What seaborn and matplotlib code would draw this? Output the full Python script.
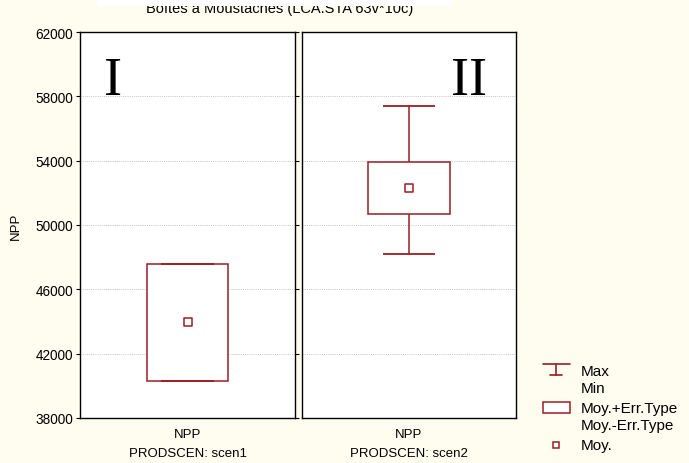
import matplotlib
matplotlib.use("Agg")
import matplotlib.pyplot as plt
import seaborn as sns
import pandas as pd
from matplotlib.lines import Line2D
from matplotlib.patches import Rectangle

# ---- data ----
scenarios = ["scen1", "scen2"]
means = [43950, 52300]
mean_plus_se = [47600, 53900]
mean_minus_se = [40300, 50700]
maxs = [47600, 57400]
mins = [40300, 48200]
roman = ["I", "II"]
yticks = [38000, 42000, 46000, 50000, 54000, 58000, 62000]

sns.set_style("white")
plt.rcParams["font.family"] = ["Liberation Sans", "DejaVu Sans"]
plt.rcParams.update({"text.color": "black", "axes.labelcolor": "black",
                     "xtick.color": "black", "ytick.color": "black"})

BG = "#FFFDEF"
RED = "#9A1E24"

fig = plt.figure(figsize=(6.89, 4.64), dpi=100, facecolor=BG)
W, H = 689, 464

def fx(px):
    return px / W

def fy(py):
    return 1 - py / H

panels = [(80, 295), (302, 516)]
top, bottom = 33, 419
roman_pos = [(0.155, 0.875), (0.78, 0.875)]

for i, sc in enumerate(scenarios):
    l, r = panels[i]
    ax = fig.add_axes([fx(l), fy(bottom), fx(r - l), (bottom - top) / H])
    ax.set_facecolor("white")
    ax.set_xlim(-1, 1)
    ax.set_ylim(38000, 62000)
    ax.set_yticks(yticks)
    for y in yticks[1:-1]:
        ax.axhline(y, color="#c4c4c4", lw=0.7, ls=(0, (1, 1.2)), zorder=0)
    # box (mean +/- SE)
    ax.bar([0], [mean_plus_se[i] - mean_minus_se[i]], bottom=[mean_minus_se[i]],
           width=0.76, facecolor="white", edgecolor=RED, linewidth=1.1, zorder=2)
    # whiskers
    ax.vlines([0], [mean_plus_se[i]], [maxs[i]], color=RED, lw=1.1, zorder=3)
    ax.vlines([0], [mins[i]], [mean_minus_se[i]], color=RED, lw=1.1, zorder=3)
    ax.hlines([maxs[i], mins[i]], -0.245, 0.245, color=RED, lw=1.3, zorder=3)
    # mean marker
    df = pd.DataFrame({"x": [0], "y": [means[i]]})
    sns.scatterplot(data=df, x="x", y="y", ax=ax, marker="s", s=26,
                    facecolor="white", edgecolor=RED, linewidth=1.1, zorder=4)
    ax.set_xticks([0])
    ax.set_xticklabels(["NPP"], fontsize=9.5)
    ax.tick_params(axis="x", length=0, pad=7)
    ax.set_xlabel(f"PRODSCEN: {sc}", fontsize=9.5, labelpad=5)
    if i == 0:
        ax.set_yticklabels([str(v) for v in yticks], fontsize=9.8)
        ax.tick_params(axis="y", left=True, right=True, direction="out", length=3,
                       width=0.8, pad=2)
        ax.set_ylabel("NPP", fontsize=9.5, labelpad=10)
    else:
        ax.set_yticklabels([])
        ax.tick_params(axis="y", left=False, right=False)
        ax.set_ylabel("")
    for s in ax.spines.values():
        s.set_color("black")
        s.set_linewidth(1.0)
    ax.text(roman_pos[i][0], roman_pos[i][1], roman[i], transform=ax.transAxes,
            ha="center", va="center", fontsize=39, family="Liberation Serif",
            color="black")

# title (partially hidden by white band as in reference)
fig.text(fx(280), fy(9.5), "Boîtes à Moustaches (LCA.STA 63v*10c)", ha="center",
         va="center", fontsize=10.5)
fig.patches.append(Rectangle((fx(97), fy(7)), fx(355), 7 / H, transform=fig.transFigure,
                             facecolor="white", edgecolor="none", zorder=10))

# custom legend
lw = 1.2
fs = 11
fig.add_artist(Line2D([fx(543), fx(570)], [fy(365), fy(365)], color=RED, lw=lw))
fig.add_artist(Line2D([fx(556), fx(556)], [fy(365), fy(376)], color=RED, lw=lw))
fig.add_artist(Line2D([fx(550), fx(562)], [fy(376), fy(376)], color=RED, lw=lw))
fig.text(fx(581), fy(372), "Max", va="center", fontsize=fs)
fig.text(fx(581), fy(389), "Min", va="center", fontsize=fs)
fig.patches.append(Rectangle((fx(543), fy(414)), fx(27), 11 / H, transform=fig.transFigure,
                             facecolor="white", edgecolor=RED, lw=1.1))
fig.text(fx(581), fy(409), "Moy.+Err.Type", va="center", fontsize=fs)
fig.text(fx(581), fy(426), "Moy.-Err.Type", va="center", fontsize=fs)
fig.add_artist(Line2D([fx(556)], [fy(446)], marker="s", ms=5, mfc="white", mec=RED,
                      mew=1.1, ls="none"))
fig.text(fx(581), fy(446), "Moy.", va="center", fontsize=fs)

fig.savefig("out.png", dpi=100, facecolor=BG)
